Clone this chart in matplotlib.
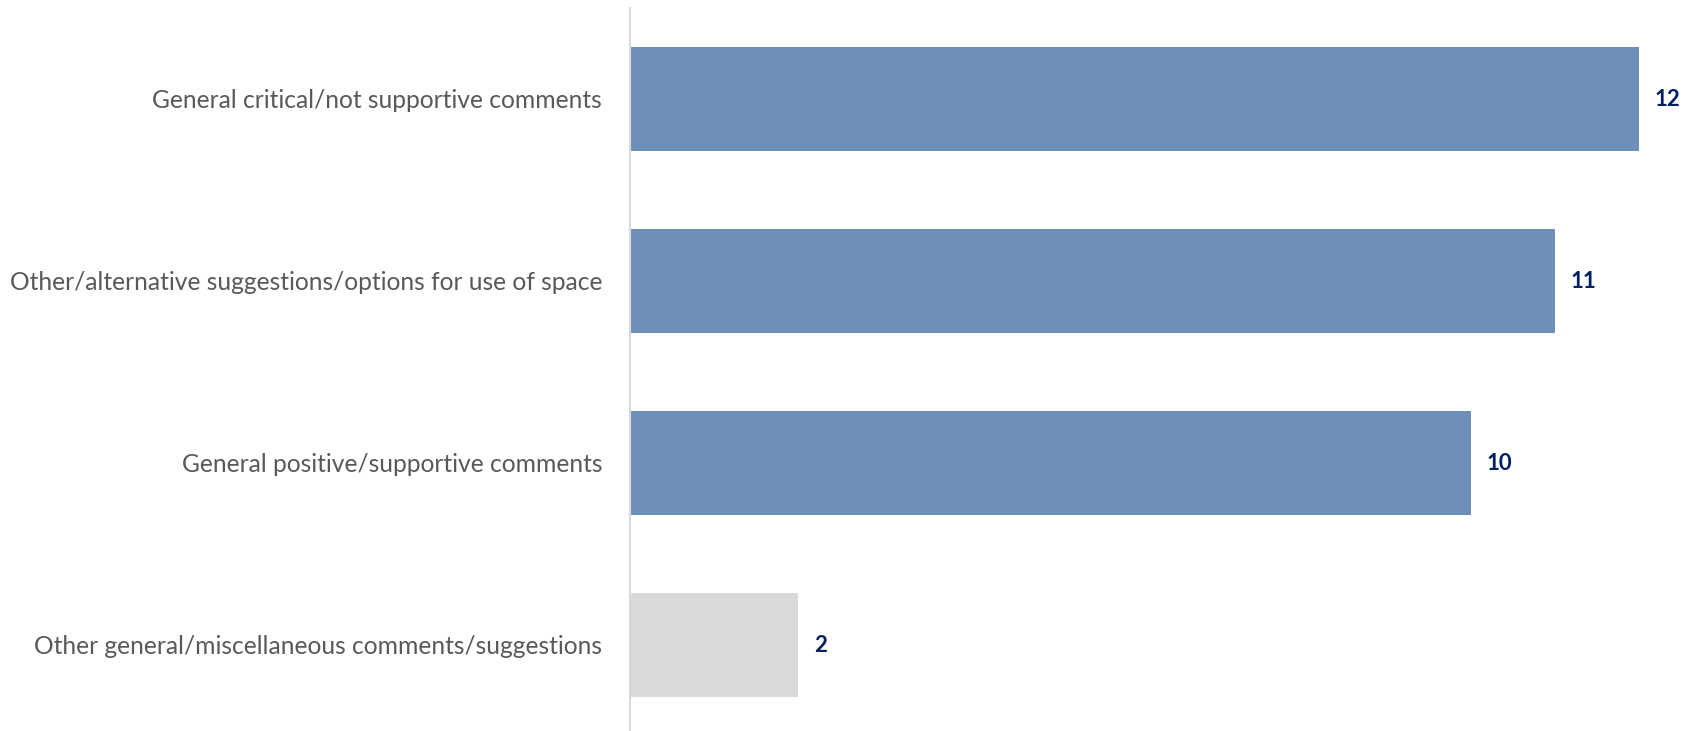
import matplotlib
matplotlib.use("Agg")
import matplotlib.pyplot as plt

categories = [
    "General critical/not supportive comments",
    "Other/alternative suggestions/options for use of space",
    "General positive/supportive comments",
    "Other general/miscellaneous comments/suggestions",
]
counts = [12, 11, 10, 2]
bar_colors = ["#6E8FB8", "#6E8FB8", "#6E8FB8", "#D9D9D9"]

plt.rcParams["font.family"] = ["Lato", "DejaVu Sans"]

W, H = 1683, 731
fig = plt.figure(figsize=(W / 100, H / 100), dpi=100)
left = 630 / W
top = (H - 8) / H
bottom = (H - 736) / H
ax = fig.add_axes([left, bottom, 1 - left, top - bottom])

y = list(range(len(categories)))
ax.barh(y, counts, height=0.57, color=bar_colors, zorder=2)
ax.set_ylim(len(categories) - 0.5, -0.5)
ax.set_xlim(0, (W - 630) / ((1639 - 630) / 12))

ax.set_yticks(y)
ax.set_yticklabels(categories, fontsize=17.7, color="#595959")
ax.tick_params(axis="y", length=0, pad=20)
ax.set_xticks([])

for s in ["top", "right", "bottom"]:
    ax.spines[s].set_visible(False)
ax.spines["left"].set_color("#D9D9D9")
ax.spines["left"].set_linewidth(1.5)

for yi, v in zip(y, counts):
    ax.annotate(str(v), (v, yi), xytext=(16, 0), textcoords="offset pixels",
                ha="left", va="center", fontsize=16, fontweight="bold",
                color="#002060")

fig.savefig("out.png", dpi=100)
